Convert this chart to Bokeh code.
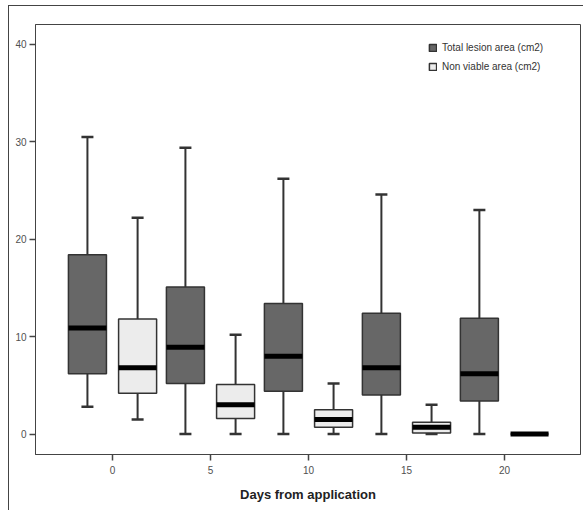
from bokeh.plotting import figure
from bokeh.models import ColumnDataSource, FixedTicker, Legend, LegendItem
from bokeh.transform import dodge
from bokeh.embed import file_html
from bokeh.resources import INLINE

# ---- data ----
days = [0, 5, 10, 15, 20]

total_low = [2.8, 0.0, 0.0, 0.0, 0.0]
total_q1 = [6.2, 5.2, 4.4, 4.0, 3.4]
total_med = [10.9, 8.9, 8.0, 6.8, 6.2]
total_q3 = [18.4, 15.1, 13.4, 12.4, 11.9]
total_high = [30.5, 29.4, 26.2, 24.6, 23.0]

nv_low = [1.5, 0.0, 0.0, 0.0, 0.0]
nv_q1 = [4.2, 1.6, 0.7, 0.1, 0.0]
nv_med = [6.8, 3.0, 1.5, 0.7, 0.0]
nv_q3 = [11.8, 5.1, 2.5, 1.2, 0.0]
nv_high = [22.2, 10.2, 5.2, 3.0, 0.0]

x_ticks = [0, 5, 10, 15, 20]
y_ticks = [0, 10, 20, 30, 40]

series_labels = ["Total lesion area (cm2)", "Non viable area (cm2)"]

# ---- figure ----
p = figure(width=575, height=505, output_backend="svg", toolbar_location=None,
           x_range=(-3.93, 23.88), y_range=(-2.1, 42.05),
           min_border_left=26, min_border_right=4, min_border_top=18, min_border_bottom=57)
p.styles = {"margin-left": "8px", "margin-top": "5px",
            "border-left": "1px solid #444", "border-top": "1px solid #444"}
p.background_fill_color = "white"
p.border_fill_color = "white"
p.outline_line_color = "#444444"
p.outline_line_width = 1
p.xgrid.grid_line_color = None
p.ygrid.grid_line_color = None

FONT = "Liberation Sans"
for ax in (p.xaxis, p.yaxis):
    ax.axis_line_color = "#444444"
    ax.major_tick_line_color = "#444444"
    ax.major_tick_line_width = 1.5
    ax.major_tick_out = 6
    ax.major_tick_in = 0
    ax.minor_tick_line_color = None
    ax.major_label_text_font = FONT
    ax.major_label_text_font_size = "10px"
    ax.major_label_text_color = "#505050"

p.xaxis.ticker = FixedTicker(ticks=x_ticks)
p.yaxis.ticker = FixedTicker(ticks=y_ticks)
p.xaxis.major_label_standoff = 5
p.yaxis.major_label_standoff = 3
p.xaxis.axis_label = "Days from application"
p.xaxis.axis_label_text_font = FONT
p.xaxis.axis_label_text_font_style = "bold"
p.xaxis.axis_label_text_font_size = "13px"
p.xaxis.axis_label_text_color = "#222222"
p.xaxis.axis_label_standoff = 10

OFFSET = 1.28
BOX_W = 1.94
FILLS = ["#676767", "#ececec"]

series = [
    (total_low, total_q1, total_med, total_q3, total_high, -OFFSET, FILLS[0]),
    (nv_low, nv_q1, nv_med, nv_q3, nv_high, OFFSET, FILLS[1]),
]

box_renderers = []
for low, q1, med, q3, high, off, fill in series:
    src = ColumnDataSource(dict(day=days, low=low, q1=q1, med=med, q3=q3, high=high))
    xd = dodge("day", off, range=p.x_range)
    p.segment(x0=xd, y0="low", x1=xd, y1="high", source=src,
              line_color="#333333", line_width=2)
    p.rect(x=xd, y="low", width=12, height=2.5, width_units="screen", height_units="screen",
           source=src, fill_color="#333333", line_color=None)
    p.rect(x=xd, y="high", width=12, height=2.5, width_units="screen", height_units="screen",
           source=src, fill_color="#333333", line_color=None)
    r = p.vbar(x=xd, bottom="q1", top="q3", width=BOX_W, source=src,
               fill_color=fill, line_color="#333333", line_width=1.5)
    box_renderers.append(r)
    p.rect(x=xd, y="med", width=BOX_W, height=5, height_units="screen", source=src,
           fill_color="black", line_color=None)

legend = Legend(items=[LegendItem(label=series_labels[i], renderers=[box_renderers[i]])
                       for i in range(2)],
                location=(393, 378), orientation="vertical")
legend.background_fill_alpha = 0
legend.border_line_color = None
legend.padding = 0
legend.margin = 0
legend.spacing = 0
legend.label_height = 19
legend.glyph_height = 9
legend.glyph_width = 9
legend.label_standoff = 5
legend.label_text_font = FONT
legend.label_text_font_size = "10px"
legend.label_text_color = "#333333"
p.add_layout(legend, "center")

open("out.html", "w").write(file_html(p, INLINE))
